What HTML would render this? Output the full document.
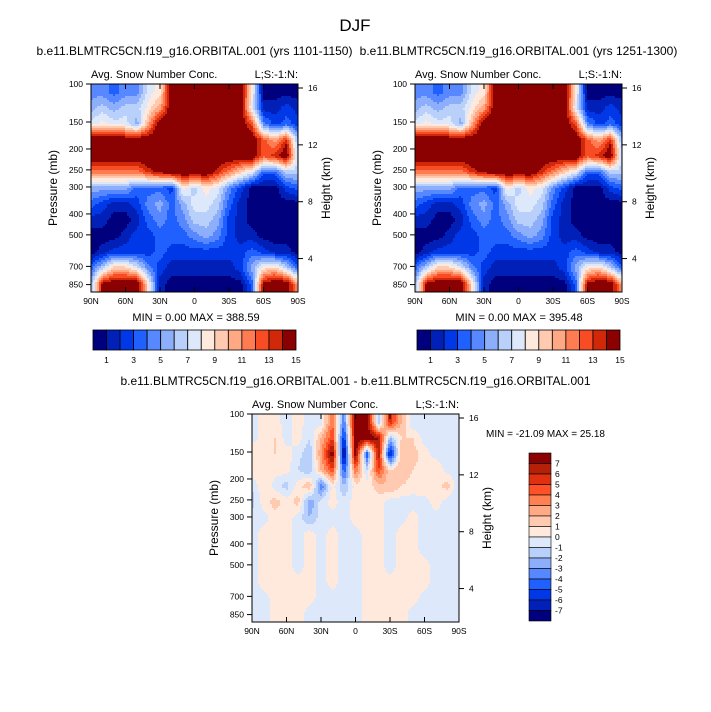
<!DOCTYPE html>
<html><head><meta charset="utf-8"><style>
body{margin:0;background:#fff;}
svg{display:block;font-family:"Liberation Sans",sans-serif;}
</style></head><body>
<svg id="fig" width="711" height="712" viewBox="0 0 711 712">
<rect width="711" height="712" fill="#fff"/>
<text x="355" y="31" font-size="17" text-anchor="middle">DJF</text>
</svg>
<script>
// ---- data ----
const lats = ["90N","60N","30N","0","30S","60S","90S"];
const pressTicks = [100,150,200,250,300,400,500,700,850];
const heightTicks = [16,12,8,4];
const seqLabels = [1,3,5,7,9,11,13,15];
const diffLabels = [7,6,5,4,3,2,1,0,-1,-2,-3,-4,-5,-6,-7];
// rows: top (100mb) to bottom (surface); cols: 90N..90S by 10 deg ; values = color level index 0..15
const gridA = [
[4,4,3,4,4,7,8,15,15,15,15,15,15,15,8,0,0,0,0],
[5,6,5,6,6,8,10,15,15,15,15,15,15,15,7,1,1,2,1],
[7,8,7,7,5,10,15,15,15,15,15,15,15,15,12,4,2,3,2],
[15,15,15,15,15,15,15,15,15,15,15,15,15,15,15,12,10,13,5],
[15,15,15,15,15,15,15,15,15,15,15,15,15,15,15,12,13,15,6],
[11,11,11,11,11,13,14,15,15,15,15,13,11,9,7,3,3,6,6],
[5,5,5,5,3,3,3,2,8,6,8,7,4,2,0,0,0,2,3],
[3,2,1,1,2,4,5,3,5,7,7,6,3,1,0,0,0,0,0],
[1,1,0,0,1,3,4,3,4,6,6,5,2,1,0,0,0,0,0],
[0,0,0,1,2,2,3,3,3,4,5,4,2,1,1,0,0,0,0],
[0,1,2,2,2,2,3,2,2,2,2,2,2,2,3,2,1,1,0],
[3,6,9,9,7,4,2,1,1,1,1,1,1,2,5,8,9,6,3],
[5,14,15,15,15,8,1,0,0,0,0,0,0,0,3,14,15,15,10]
];
const gridB = [
[4,4,3,4,4,7,8,15,15,15,15,15,15,15,8,0,0,0,0],
[5,6,5,6,6,8,10,15,15,15,15,15,15,15,7,1,1,2,1],
[7,8,7,7,5,10,15,15,15,15,15,15,15,15,12,4,2,3,2],
[15,15,15,15,15,15,15,15,15,15,15,15,15,15,15,12,10,13,5],
[15,15,15,15,15,15,15,15,15,15,15,15,15,15,15,12,13,15,6],
[11,11,11,11,11,13,14,15,15,15,15,13,11,9,7,3,3,6,6],
[5,5,5,5,3,3,3,2,8,6,8,7,4,2,0,0,0,2,3],
[3,2,1,1,2,4,5,3,5,7,7,6,3,1,0,0,0,0,0],
[1,1,0,0,1,3,4,3,4,6,6,5,2,1,0,0,0,0,0],
[0,0,0,1,2,2,3,3,3,4,5,4,2,1,1,0,0,0,0],
[0,1,2,2,2,2,3,2,2,2,2,2,2,2,3,2,1,1,0],
[3,6,9,9,7,4,2,1,1,1,1,1,1,2,5,8,9,6,3],
[5,14,15,15,15,8,1,0,0,0,0,0,0,0,3,14,15,15,10]
];
const gridDiff = [
[-0.5,0.5,0.5,-0.5,0.5,-0.5,-0.5,4,-4,8,8,-2,6,2,-1,-0.5,-0.5,-0.5,-0.5],
[-0.5,0.5,1,-0.5,0.5,-1,2,5,-6,8,8,7,-2,1,1,-0.5,-0.5,-0.5,-0.5],
[1,0.5,1,0.5,-0.5,-2,3,8,-8,8,-5,7,-7,2,1.5,0.5,-0.5,-0.5,-0.5],
[1,1,0.5,0.5,-1,-2,2,5,-5,4,-1,5,1,2,1,0.5,1,-0.5,-0.5],
[-1,1,-0.5,-1.5,0.5,2,-4,0.5,-2,0.5,0.5,1.5,2,1,0.5,1,0.5,1.5,-1],
[-1.5,0.5,1.5,0.5,1.5,-3,-0.5,0.5,-0.5,0.5,0.5,0.5,-0.5,-0.5,-0.5,-0.5,0.5,-0.5,-1],
[-0.5,-0.5,0.5,0.5,-0.5,-2,-0.5,-0.5,-0.5,0.5,0.5,0.5,-0.5,-0.5,0.5,-0.5,-0.5,-0.5,-0.5],
[-0.5,0.5,0.5,0.5,-0.5,0.5,-0.5,0.5,-0.5,-0.5,0.5,0.5,-0.5,0.5,0.5,-0.5,-0.5,-0.5,-0.5],
[-0.5,0.5,0.5,0.5,-0.5,0.5,-0.5,0.5,-0.5,-0.5,0.5,0.5,-0.5,0.5,0.5,-0.5,-0.5,-0.5,-0.5],
[-0.5,0.5,0.5,0.5,-0.5,0.5,-0.5,0.5,-0.5,-0.5,0.5,0.5,-0.5,0.5,0.5,0.5,-0.5,-0.5,-0.5],
[-0.5,0.5,0.5,0.5,0.5,0.5,-0.5,0.5,-0.5,-0.5,0.5,0.5,0.5,0.5,0.5,0.5,-0.5,-0.5,-0.5],
[-0.5,-0.5,0.5,0.5,0.5,0.5,-0.5,-0.5,-0.5,-0.5,0.5,0.5,0.5,0.5,0.5,-0.5,-0.5,-0.5,-0.5],
[-0.5,-0.5,0.5,0.5,0.5,-0.5,-0.5,-0.5,-0.5,-0.5,0.5,0.5,0.5,0.5,-0.5,-0.5,-0.5,-0.5,-0.5]
];
const seqColors = ["#00007f","#0020b8","#0038e8","#2060ff","#5888ff","#8caefb","#b8d0fa","#dde9fb","#ffe8dc","#ffcab0","#ffa884","#ff7c52","#f84c24","#d02808","#8b0000","#8b0000"];
const diffColors = ["#8b0000","#b42008","#e03010","#ff5028","#ff8050","#ffaa84","#ffcab0","#ffe8dc","#dde9fb","#b8d0fa","#8caefb","#5888ff","#2060ff","#0038e8","#0020b8","#00007f"];

const NS="http://www.w3.org/2000/svg";
const svg=document.getElementById('fig');
function el(tag,attrs,parent){const e=document.createElementNS(NS,tag);for(const k in attrs)e.setAttribute(k,attrs[k]);(parent||svg).appendChild(e);return e;}
function txt(x,y,s,size,anchor,parent,rot){const t=el('text',{x:x,y:y,'font-size':size,'text-anchor':anchor||'middle'},parent);if(rot)t.setAttribute('transform','rotate(-90 '+x+' '+y+')');t.textContent=s;return t;}

function sample(grid,fx,fy){
  const R=grid.length,C=grid[0].length;
  let gx=Math.max(0,Math.min(C-1,fx)),gy=Math.max(0,Math.min(R-1,fy));
  const i0=Math.floor(gx),j0=Math.floor(gy),i1=Math.min(C-1,i0+1),j1=Math.min(R-1,j0+1);
  const tx=gx-i0,ty=gy-j0;
  const a=grid[j0][i0]*(1-tx)+grid[j0][i1]*tx,b=grid[j1][i0]*(1-tx)+grid[j1][i1]*tx;
  return a*(1-ty)+b*ty;
}

function panel(name,x0,y0,w,h,grid,colorOf,heading){
  const g=el('g',{});
  
  
  const R=grid.length,C=grid[0].length,st=2;
  for(let y=0;y<h;y+=st){
    const fy=(y+st/2)/h*R-0.5;
    let runStart=0,runCol=null;
    for(let x=0;;x+=st){
      const done=x>=w;
      let col=null;
      if(!done){const fx=(x+st/2)/w*(C-1);col=colorOf(sample(grid,fx,fy));}
      if(col!==runCol){
        if(runCol!==null){const xe=Math.min(x,w);const r=el('rect',{x:x0+runStart,y:y0+y,width:xe-runStart+0.3,height:Math.min(st,h-y)+0.3,fill:runCol},g);
          }
        runStart=x;runCol=col;
      }
      if(done)break;
    }
  }
  el('rect',{x:x0,y:y0,width:w,height:h,fill:'none',stroke:'#000','stroke-width':1},g);
  lats.forEach((l,i)=>{const x=x0+i*w/6;
    el('line',{x1:x,y1:y0+h,x2:x,y2:y0+h-5,stroke:'#000'},g);el('line',{x1:x,y1:y0,x2:x,y2:y0+5,stroke:'#000'},g);
    const t=txt(x,y0+h+12,l,8.5,'middle',g);});
  const lp=p=>y0+(Math.log(p)-Math.log(100))/(Math.log(920)-Math.log(100))*h;
  pressTicks.forEach(p=>{const y=lp(p);el('line',{x1:x0,y1:y,x2:x0-5,y2:y,stroke:'#000'},g);
    const t=txt(x0-8,y+3,String(p),8.5,'end',g);});
  const hy=k=>y0+4+(16-k)/12*(h*0.82);
  heightTicks.forEach(k=>{const y=hy(k);el('line',{x1:x0+w,y1:y,x2:x0+w+5,y2:y,stroke:'#000'},g);
    const t=txt(x0+w+10,y+3,String(k),8.5,'start',g);});
  let t=txt(x0-34,y0+h/2,'Pressure (mb)',12,'middle',g,true);
  t=txt(x0+w+32,y0+h/2,'Height (km)',12,'middle',g,true);
  t=txt(x0,y0-6,'Avg. Snow Number Conc.',11,'start',g);
  t=txt(x0+w,y0-6,'L;S:-1:N:',11,'end',g);
  t=txt(x0+w/2,y0-29,heading,12,'middle',g);
  return g;
}
const seqOf=v=>seqColors[Math.max(0,Math.min(14,Math.round(v)))];
const diffOf=v=>{let k=Math.floor(v);k=Math.max(-8,Math.min(7,k));return diffColors[7-k];};

panel('panel-yrs-1101-1150',91,84,207,208,gridA,seqOf,'b.e11.BLMTRC5CN.f19_g16.ORBITAL.001 (yrs 1101-1150)');
panel('panel-yrs-1251-1300',415,84,207,208,gridB,seqOf,'b.e11.BLMTRC5CN.f19_g16.ORBITAL.001 (yrs 1251-1300)');
panel('panel-difference',252,414,207,208,gridDiff,diffOf,'b.e11.BLMTRC5CN.f19_g16.ORBITAL.001 - b.e11.BLMTRC5CN.f19_g16.ORBITAL.001');

let t=txt(196,321,'MIN =   0.00  MAX = 388.59',11,'middle');
t=txt(519,321,'MIN =   0.00  MAX = 395.48',11,'middle');
t=txt(486,437,'MIN = -21.09  MAX =  25.18',10,'start');

function hbar(name,x0){
  const g=el('g',{});
  const bw=203/15;
  for(let i=0;i<15;i++){const r=el('rect',{x:x0+i*bw,y:330,width:bw,height:20,fill:seqColors[i],stroke:'#000','stroke-width':0.8},g);
    }
  seqLabels.forEach(v=>{const t=txt(x0+v*bw,363,String(v),8.5,'middle',g);});
}
hbar('colorbar-left',93);hbar('colorbar-right',417);
(function(){
  const g=el('g',{});
  const bh=168/16;
  for(let i=0;i<16;i++){const r=el('rect',{x:529,y:453+i*bh,width:22,height:bh,fill:diffColors[i],stroke:'#000','stroke-width':0.6},g);
    }
  diffLabels.forEach((v,i)=>{const t=txt(555,453+(i+1)*bh+3,String(v),8.5,'start',g);});
})();
</script>
</body></html>
